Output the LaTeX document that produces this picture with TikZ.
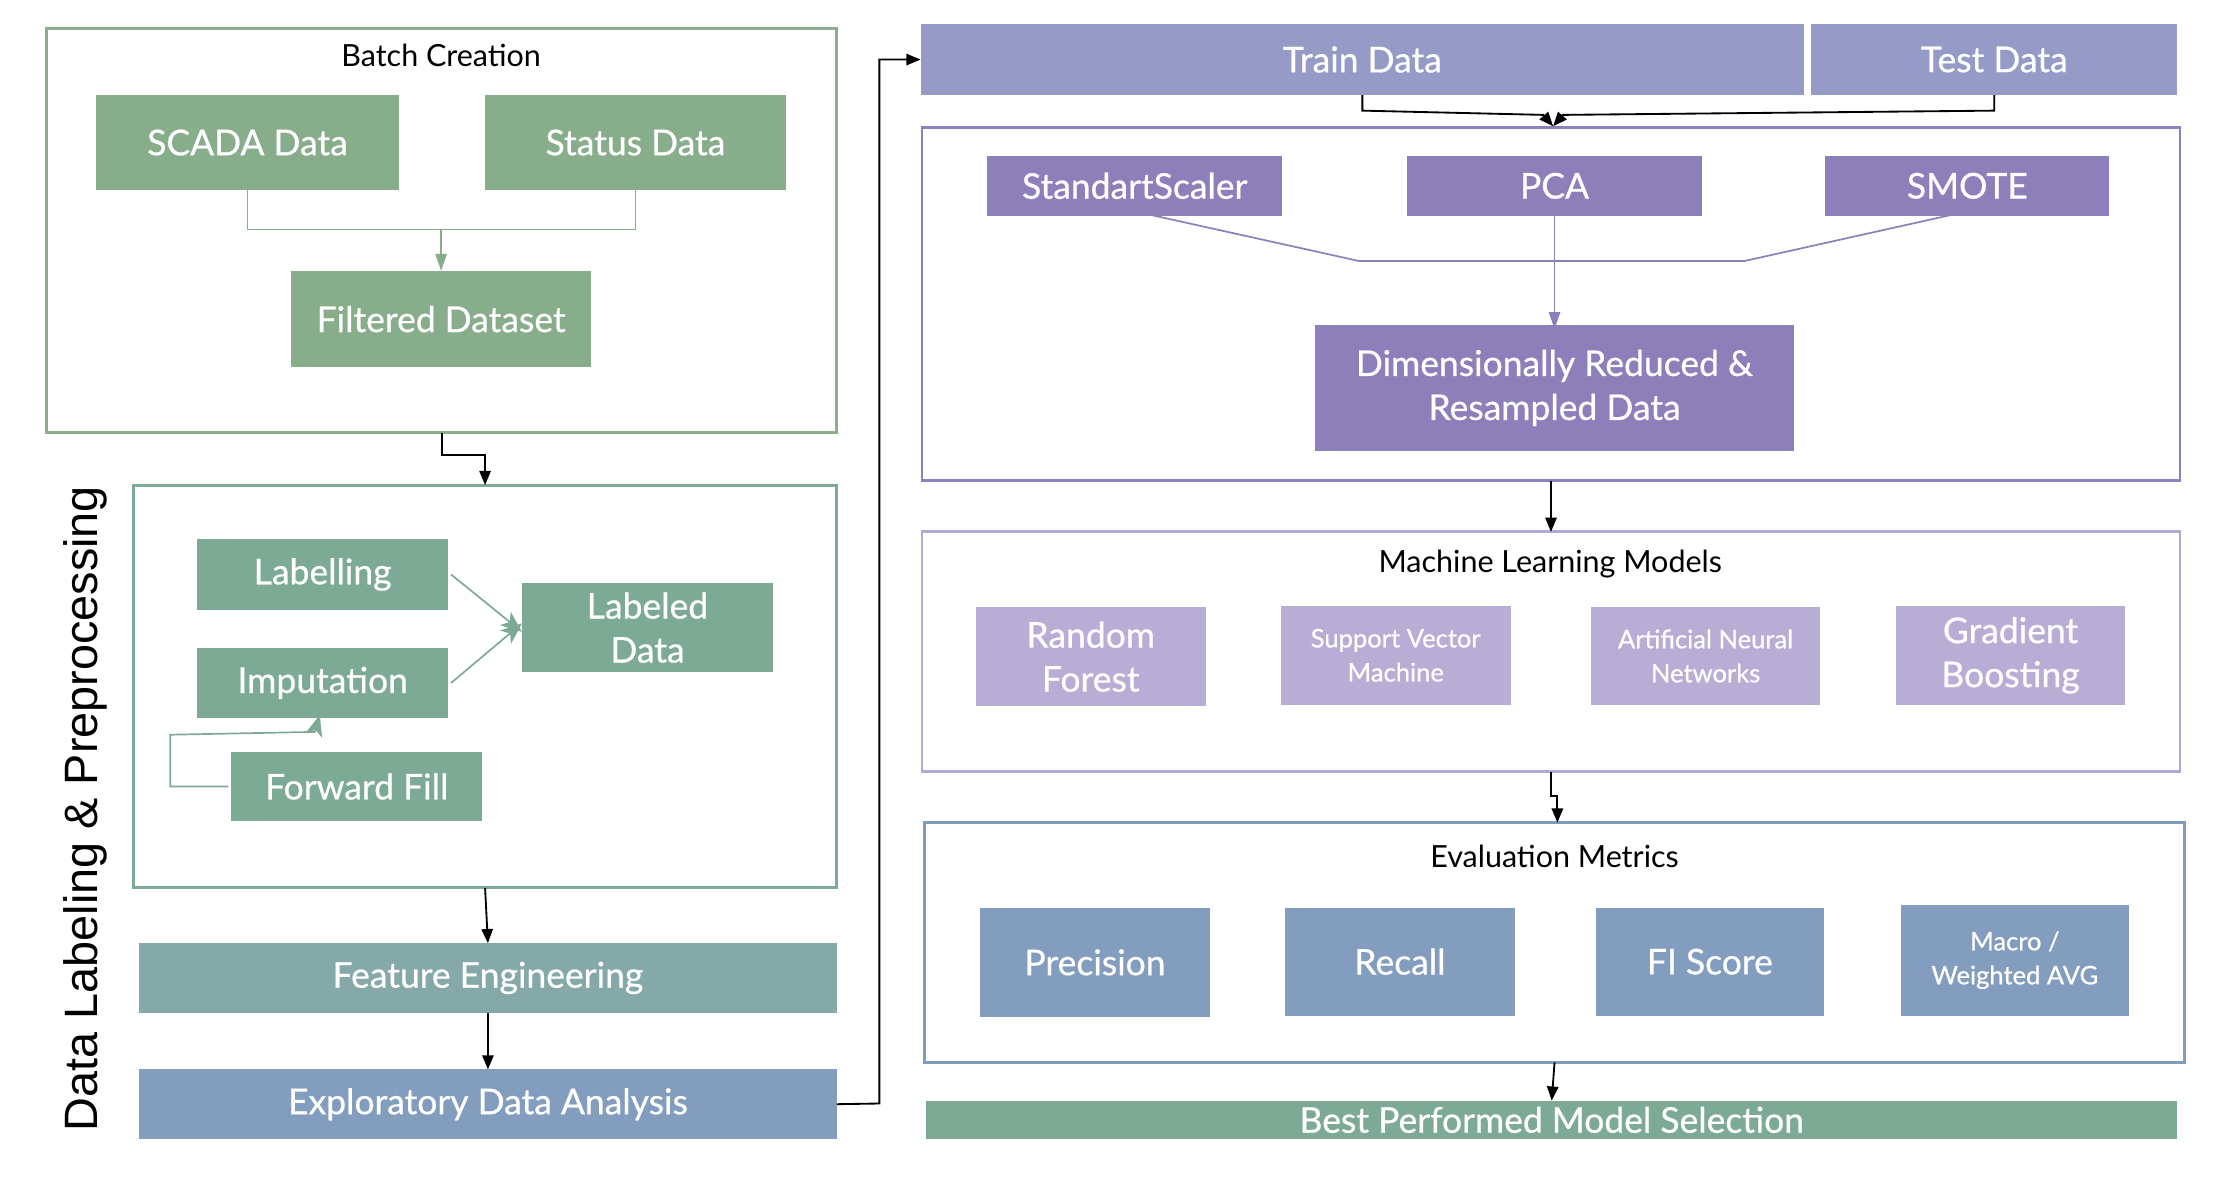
\documentclass[tikz,border=0pt]{standalone}
\usepackage{fontspec}
\setmainfont{Lato}
\newfontfamily\boxfnt{Lato}[FakeBold=0.6]
\newfontfamily\rotfont{Liberation Sans}
\usetikzlibrary{arrows.meta,calc}
\definecolor{cgreen}{HTML}{88AD8B}
\definecolor{cteal}{HTML}{7DAA94}
\definecolor{cfeat}{HTML}{85A8A8}
\definecolor{cblue}{HTML}{829DBE}
\definecolor{ctrain}{HTML}{959BC6}
\definecolor{cpurp}{HTML}{8C7FBA}
\definecolor{clpurp}{HTML}{B8AED5}
\definecolor{cbox}{HTML}{8E80BC}
\definecolor{cmlbox}{HTML}{B4A9D3}
\definecolor{cevbox}{HTML}{7F9CBD}
\definecolor{cgbox}{HTML}{8BAE8F}
\definecolor{ctbox}{HTML}{7FAA95}
\tikzset{
  fbox/.style={inner sep=0pt, outer sep=0pt, anchor=north west, text=white, align=center,
    font=\boxfnt\fontsize{25}{31}\selectfont},
  sfbox/.style={fbox, font=\boxfnt\fontsize{18}{24}\selectfont},
  frame/.style={draw=#1, line width=2pt, inner sep=0pt, outer sep=0pt, anchor=north west},
  ttl/.style={font=\fontsize{21.5}{24}\selectfont, text=black},
  blk/.style={line width=1.3pt, draw=black, -{Triangle[length=10pt,width=8pt]}},
  gline/.style={line width=1pt, draw=cgreen},
  garrow/.style={gline, -{Triangle[length=12pt,width=8pt]}},
  tline/.style={line width=1.2pt, draw=cteal},
  tarrow/.style={tline, -{Stealth[length=15pt,width=12pt,inset=4pt]}},
  pline/.style={line width=1.2pt, draw=cpurp},
  parrow/.style={pline, -{Triangle[length=12pt,width=8pt]}},
}
\begin{document}
\begin{tikzpicture}[x=1pt,y=-1pt]
\useasboundingbox (0,0) rectangle (1568,832);
% ---------- Batch creation ----------
\node[frame=cgbox, minimum width=557, minimum height=285] (batch) at (33,20) {};
\node[ttl] (batchttl) at (311,39) {Batch Creation};
\node[fbox, fill=cgreen, minimum width=213, minimum height=67] (scada) at (68,67) {SCADA Data};
\node[fbox, fill=cgreen, minimum width=212, minimum height=67] (status) at (342,67) {Status Data};
\node[fbox, fill=cgreen, minimum width=212, minimum height=68] (filt) at (205,191) {Filtered Dataset};
\coordinate (bjoin) at (311,162);
\draw[gline] (scada.south) |- (bjoin);
\draw[gline] (status.south) |- (bjoin);
\draw[garrow] (bjoin) -- (filt.north);
% ---------- Labelling box ----------
\node[frame=ctbox, minimum width=496, minimum height=284] (lab) at (94,342) {};
\node[fbox, fill=cteal, minimum width=177, minimum height=50] (labelling) at (139,380) {Labelling};
\node[fbox, fill=cteal, minimum width=177, minimum height=49] (imput) at (139,457) {Imputation};
\node[fbox, fill=cteal, minimum width=177, minimum height=49] (ffill) at (163,530) {Forward Fill};
\node[fbox, fill=cteal, minimum width=177, minimum height=63] (labeled) at (368,411) {Labeled\\Data};
\draw[tarrow] ([xshift=2pt]labelling.east) -- ([yshift=-3pt]labeled.west);
\draw[tarrow] ([xshift=2pt]imput.east) -- ([yshift=3pt]labeled.west);
\coordinate (ffc) at (120,518);
\draw[tarrow] ([xshift=-2pt]ffill.west) -| (ffc) -- (222,516) -- ([xshift=-2pt,yshift=2pt]imput.south);
\draw[blk] (batch.south) -- ++(0,16) -| (lab.north);
% ---------- Feature / EDA ----------
\node[fbox, fill=cfeat, minimum width=492, minimum height=49] (feat) at (98,665) {Feature Engineering};
\node[fbox, fill=cblue, minimum width=492, minimum height=49] (eda) at (98,754) {Exploratory Data Analysis};
\draw[blk] (lab.south) -- (feat.north);
\draw[blk] (feat.south) -- (eda.north);
\node[rotate=90, font=\rotfont\fontsize{33}{36}\selectfont] (side) at (60,570) {Data Labeling \& Preprocessing};
% ---------- Train / Test ----------
\node[fbox, fill=ctrain, minimum width=623, minimum height=50] (train) at (649,17) {Train Data};
\node[fbox, fill=ctrain, minimum width=258, minimum height=50] (test) at (1277,17) {Test Data};
\coordinate (edac) at (620,778);
\draw[blk] (eda.east) -- (edac) |- (train.west);
% ---------- Preprocessing box ----------
\node[frame=cbox, minimum width=887, minimum height=249] (pre) at (650,90) {};
\node[fbox, fill=cpurp, minimum width=208, minimum height=42] (scaler) at (696,110) {StandartScaler};
\node[fbox, fill=cpurp, minimum width=208, minimum height=42] (pca) at (992,110) {PCA};
\node[fbox, fill=cpurp, minimum width=200, minimum height=42] (smote) at (1287,110) {SMOTE};
\node[fbox, fill=cpurp, minimum width=338, minimum height=89] (dim) at (927,229) {Dimensionally Reduced \&\\Resampled Data};
\coordinate (ttj) at (1095,89);
\draw[blk] (train.south) -- ++(0,11) -- (1088,81) -- (ttj);
\draw[blk] (test.south) -- ++(0,11) -- (1102,81) -- (ttj);
\coordinate (pl) at (958,184);
\coordinate (pr) at (1230,184);
\draw[pline] ([yshift=3pt]scaler.south) -- (pl) -- (pr) -- ([yshift=3pt]smote.south);
\draw[parrow] ([yshift=3pt]pca.south) -- ([yshift=-3pt]dim.north);
% ---------- ML models ----------
\node[frame=cmlbox, minimum width=887, minimum height=169] (ml) at (650,375) {};
\node[ttl] (mlttl) at (1093,398) {Machine Learning Models};
\node[fbox, fill=clpurp, minimum width=162, minimum height=70] (rf) at (688,428) {Random\\Forest};
\node[sfbox, fill=clpurp, minimum width=162, minimum height=70] (svm) at (903,427) {Support Vector\\Machine};
\node[sfbox, fill=clpurp, minimum width=161, minimum height=69] (ann) at (1122,428) {Artificial Neural\\Networks};
\node[fbox, fill=clpurp, minimum width=161, minimum height=70] (gb) at (1337,427) {Gradient\\Boosting};
\draw[blk] (pre.south) -- (ml.north);
% ---------- Evaluation ----------
\node[frame=cevbox, minimum width=888, minimum height=169] (ev) at (652,580) {};
\node[ttl] (evttl) at (1096,604) {Evaluation Metrics};
\node[fbox, fill=cblue, minimum width=162, minimum height=77] (prec) at (691,640) {Precision};
\node[fbox, fill=cblue, minimum width=162, minimum height=76] (rec) at (906,640) {Recall};
\node[fbox, fill=cblue, minimum width=161, minimum height=76] (f1) at (1125,640) {FI Score};
\node[sfbox, fill=cblue, minimum width=161, minimum height=78] (macro) at (1340,638) {Macro /\\Weighted AVG};
\draw[blk] (ml.south) -- ++(0,17) -| ([xshift=2pt]ev.north);
% ---------- Best ----------
\node[fbox, fill=cteal, minimum width=882, minimum height=27] (best) at (653,776) {Best Performed Model Selection};
\draw[blk] (ev.south) -- (best.north);
\end{tikzpicture}
\end{document}
